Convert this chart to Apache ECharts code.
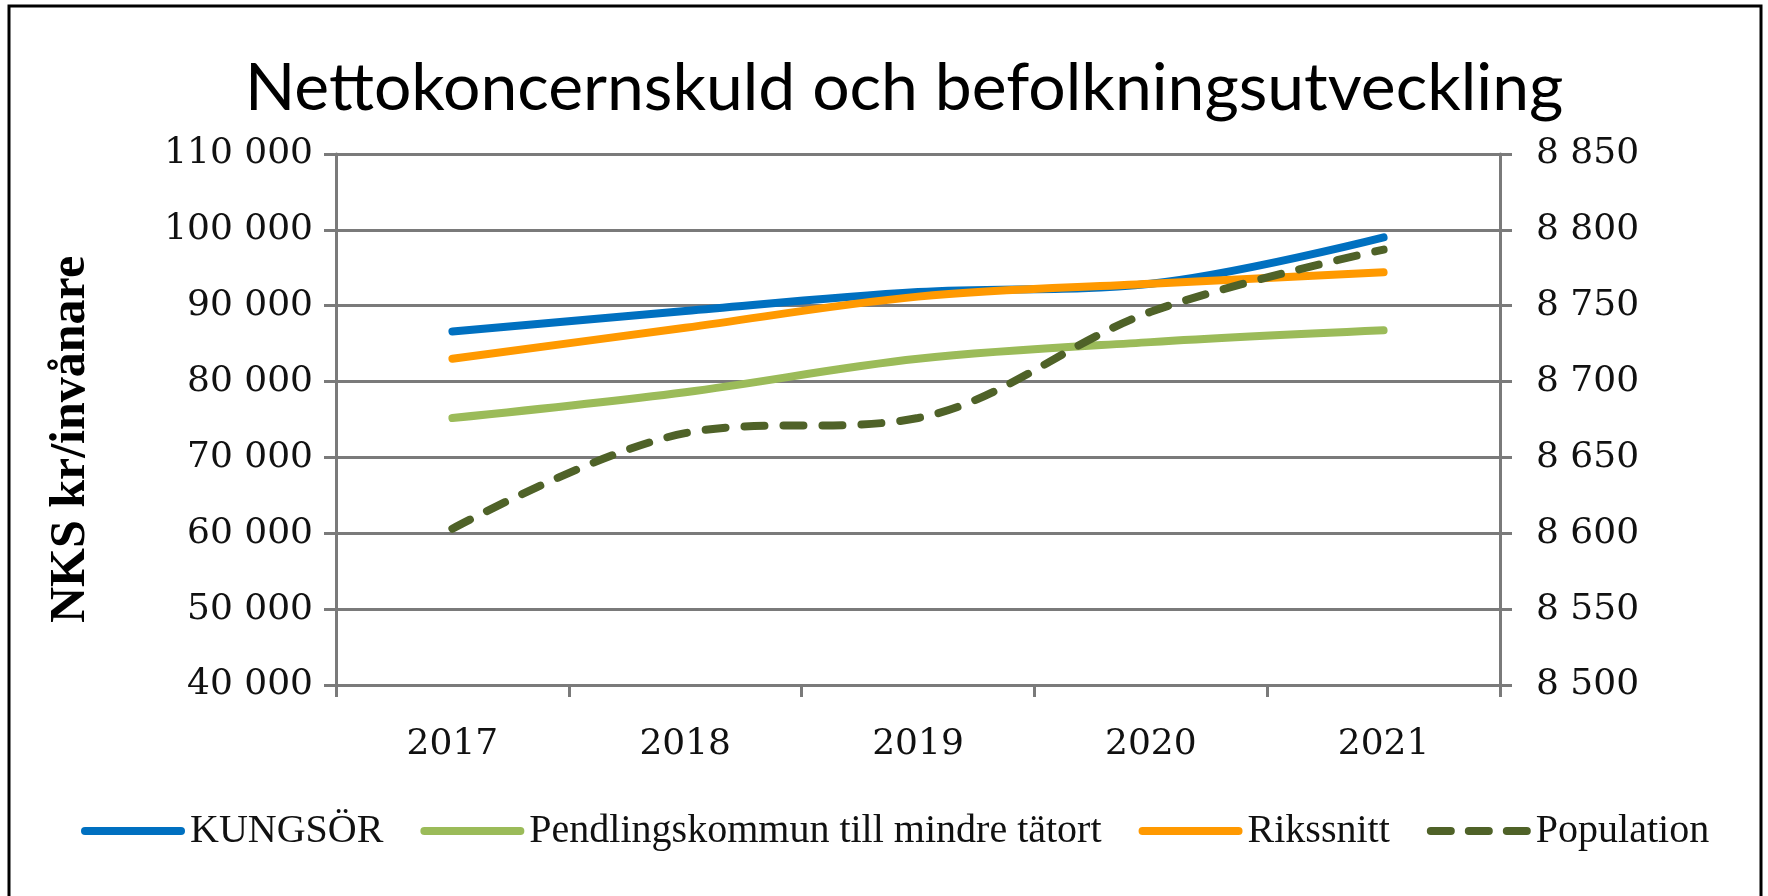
<!DOCTYPE html>
<html>
<head>
<meta charset="utf-8">
<script src="https://cdn.jsdelivr.net/npm/echarts@6/dist/echarts.min.js"></script>
<style>
html,body{margin:0;padding:0;background:#fff;}
#chart{width:1768px;height:896px;}
</style>
</head>
<body>
<div id="chart"></div>
<script>
const categories = ['2017', '2018', '2019', '2020', '2021'];
const kungsor = [86600, 89300, 91800, 92900, 99000];
const pendling = [75200, 78600, 83000, 85200, 86750];
const rikssnitt = [83000, 87100, 91200, 92900, 94400];
const population = [8603, 8666, 8676, 8746, 8787];
const seriesNames = ['KUNGSÖR', 'Pendlingskommun till mindre tätort', 'Rikssnitt', 'Population'];
const titleText = 'Nettokoncernskuld och befolkningsutveckling';
const yAxisName = 'NKS kr/invånare';

const fmt = v => String(v).replace(/\B(?=(\d{3})+(?!\d))/g, ' ');
const gray = '#7a7a7a';
const labelFont = { fontFamily: 'DejaVu Serif', fontSize: 36, color: '#111' };
const solidIcon = 'path://M4,0 H100 A4,4 0 0 1 100,8 H4 A4,4 0 0 1 4,0 Z';
const dashIcon = 'path://M4,0 H24 A4,4 0 0 1 24,8 H4 A4,4 0 0 1 4,0 Z M42,0 H62 A4,4 0 0 1 62,8 H42 A4,4 0 0 1 42,0 Z M80,0 H100 A4,4 0 0 1 100,8 H80 A4,4 0 0 1 80,0 Z';

const chart = echarts.init(document.getElementById('chart'), null, { renderer: 'canvas' });
chart.setOption({
  animation: false,
  backgroundColor: '#fff',
  title: {
    text: titleText,
    left: 240,
    top: 51,
    textStyle: { fontFamily: 'Lato', fontWeight: 'normal', fontSize: 66, color: '#000' }
  },
  graphic: [{
    type: 'rect',
    shape: { x: 9, y: 6, width: 1752, height: 900 },
    style: { fill: 'none', stroke: '#000', lineWidth: 3 },
    silent: true
  }],
  grid: { left: 336, right: 268, top: 154, bottom: 211, containLabel: false },
  legend: {
    left: 76,
    top: 806,
    itemWidth: 104,
    itemHeight: 8,
    itemGap: 37,
    textStyle: { fontFamily: 'Liberation Serif', fontSize: 40, color: '#111' },
    data: [
      { name: seriesNames[0], icon: solidIcon },
      { name: seriesNames[1], icon: solidIcon },
      { name: seriesNames[2], icon: solidIcon },
      { name: seriesNames[3], icon: dashIcon }
    ]
  },
  xAxis: {
    type: 'category',
    data: categories,
    boundaryGap: true,
    axisLine: { show: true, lineStyle: { color: gray, width: 3 } },
    axisTick: { show: true, length: 12, interval: 0, lineStyle: { color: gray, width: 3 } },
    axisLabel: Object.assign({ margin: 42, interval: 0 }, labelFont),
    splitLine: { show: false }
  },
  yAxis: [{
    type: 'value',
    min: 40000, max: 110000, interval: 10000,
    position: 'left',
    name: yAxisName,
    nameLocation: 'middle',
    nameRotate: 90,
    nameGap: 240,
    nameTextStyle: { fontFamily: 'Liberation Serif', fontWeight: 'bold', fontSize: 50, color: '#000', padding: [0, 40, 0, 0] },
    axisLine: { show: true, lineStyle: { color: gray, width: 3 } },
    axisTick: { show: true, length: 12, lineStyle: { color: gray, width: 3 } },
    axisLabel: Object.assign({ margin: 23, formatter: fmt }, labelFont),
    splitLine: { show: true, lineStyle: { color: gray, width: 3 } }
  }, {
    type: 'value',
    min: 8500, max: 8850, interval: 50,
    position: 'right',
    axisLine: { show: true, lineStyle: { color: gray, width: 3 } },
    axisTick: { show: true, length: 12, lineStyle: { color: gray, width: 3 } },
    axisLabel: Object.assign({ margin: 36, formatter: fmt }, labelFont),
    splitLine: { show: false }
  }],
  series: [{
    name: seriesNames[0], type: 'line', data: kungsor, yAxisIndex: 0,
    smooth: 0.35, symbol: 'none',
    lineStyle: { color: '#0070C0', width: 8, cap: 'round' },
    itemStyle: { color: '#0070C0' }
  }, {
    name: seriesNames[1], type: 'line', data: pendling, yAxisIndex: 0,
    smooth: 0.35, symbol: 'none',
    lineStyle: { color: '#9BBB59', width: 8, cap: 'round' },
    itemStyle: { color: '#9BBB59' }
  }, {
    name: seriesNames[2], type: 'line', data: rikssnitt, yAxisIndex: 0,
    smooth: 0.35, symbol: 'none',
    lineStyle: { color: '#FF9900', width: 8, cap: 'round' },
    itemStyle: { color: '#FF9900' }
  }, {
    name: seriesNames[3], type: 'line', data: population, yAxisIndex: 1,
    smooth: 0.35, symbol: 'none',
    lineStyle: { color: '#4F6228', width: 8, type: [20, 19], cap: 'round' },
    itemStyle: { color: '#4F6228' }
  }]
});
</script>
</body>
</html>
